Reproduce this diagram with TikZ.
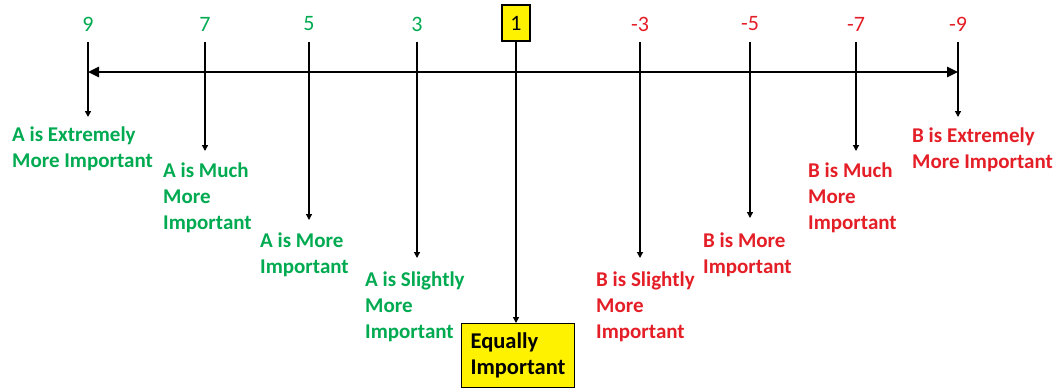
\documentclass[tikz,border=0pt]{standalone}
\usepackage{fontspec}
\setmainfont{Carlito}
\usetikzlibrary{arrows.meta,positioning}
\definecolor{agreen}{RGB}{0,170,80}
\definecolor{bred}{RGB}{228,30,38}

\begin{document}
\begin{tikzpicture}[x=1pt,y=-1pt,
  num/.style={font=\fontsize{22}{24}\selectfont,inner sep=0pt},
  lab/.style={font=\bfseries\fontsize{21}{26}\selectfont,align=left,anchor=north west,inner sep=0pt},
  tick/.style={line width=1.3pt,-{Triangle[length=6pt,width=6pt]}}]
\useasboundingbox (0,0) rectangle (1062,389);
% scale values, tick positions and arrow ends
\foreach \i/\x/\v/\c/\e in {9/88/9/agreen/117,7/205/7/agreen/151,5/309/5/agreen/220,3/417/3/agreen/258,
  m3/640/-3/bred/258,m5/750/-5/bred/218,m7/856/-7/bred/151,m9/958/-9/bred/117}{
  \node[num,text=\c] (v\i) at (\x,24) {\v};
  \coordinate (s\i) at (\x,42);
  \coordinate (e\i) at (\x,\e);
  \draw[tick] (s\i) -- (e\i);
}
\coordinate (left) at (88,72);
\coordinate (right) at (958,72);
\draw[line width=2.6pt,{Triangle[length=11pt,width=10pt]}-{Triangle[length=11pt,width=10pt]}] (left) -- (right);
% equal importance
\node[draw,fill=yellow,line width=1.2pt,num,minimum width=28pt,minimum height=36pt] (v1) at (516,23) {1};
\node[draw,fill=yellow,line width=1.2pt,lab,font=\bfseries\fontsize{22.5}{26}\selectfont,anchor=north west,
  inner xsep=9pt,minimum height=64pt] (eq) at (461,323) {Equally\\Important};
\draw[tick] (v1.south) -- (v1.south |- eq.north);
% labels, side A
\node[lab,text=agreen] (a9) at (12,127) {A is Extremely\\More Important};
\node[lab,text=agreen] (a7) at (163,163) {A is Much\\More\\Important};
\node[lab,text=agreen] (a5) at (260,233) {A is More\\Important};
\node[lab,text=agreen] (a3) at (365,272) {A is Slightly\\More\\Important};
% labels, side B
\node[lab,text=bred] (b3) at (596,272) {B is Slightly\\More\\Important};
\node[lab,text=bred] (b5) at (703,233) {B is More\\Important};
\node[lab,text=bred] (b7) at (808,163) {B is Much\\More\\Important};
\node[lab,text=bred] (b9) at (912,128) {B is Extremely\\More Important};
\end{tikzpicture}
\end{document}
